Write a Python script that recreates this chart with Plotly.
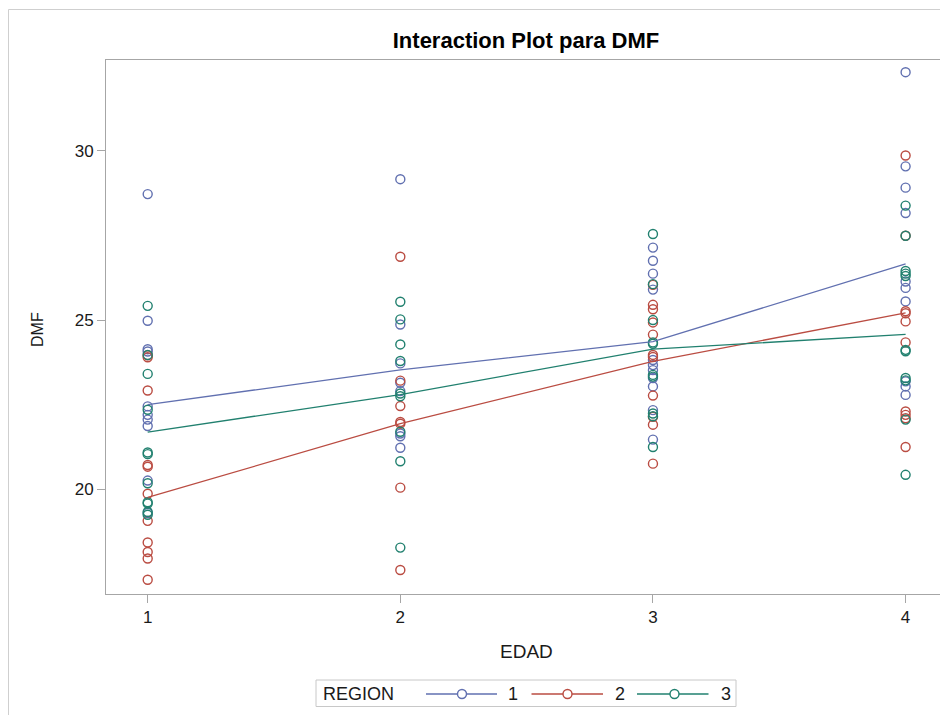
import plotly.graph_objects as go

# ---------------- data ----------------
edad_levels = [1, 2, 3, 4]
region_labels = ["1", "2", "3"]

# REGION 1 (blue)
r1_edad1 = [28.72, 24.98, 24.14, 24.07, 22.45, 22.20, 22.06, 21.87, 20.26, 19.30]
r1_edad2 = [29.16, 24.87, 23.72, 23.15, 22.90, 21.65, 21.57, 21.23]
r1_edad3 = [27.14, 26.75, 26.37, 25.90, 23.82, 23.67, 23.52, 23.29, 23.04, 22.34, 21.47]
r1_edad4 = [32.32, 29.54, 28.91, 28.16, 26.14, 25.95, 25.55, 23.19, 23.04, 22.79]

# REGION 2 (red)
r2_edad1 = [23.96, 23.90, 22.92, 20.72, 20.67, 19.87, 19.07, 18.43, 18.15, 17.96, 17.33]
r2_edad2 = [26.87, 23.21, 22.46, 21.99, 21.94, 20.05, 17.62]
r2_edad3 = [26.04, 25.45, 25.32, 24.93, 24.57, 23.97, 23.91, 22.77, 22.14, 21.91, 20.76]
r2_edad4 = [29.86, 27.49, 25.26, 25.20, 24.96, 24.34, 22.30, 22.20, 22.10, 21.25]

# REGION 3 (green)
r3_edad1 = [25.42, 23.97, 23.41, 22.35, 21.09, 21.04, 20.18, 19.62, 19.58, 19.33, 19.25]
r3_edad2 = [25.54, 25.02, 24.28, 23.79, 22.83, 22.75, 21.70, 20.83, 18.28]
r3_edad3 = [27.54, 26.06, 25.00, 24.34, 24.30, 23.38, 23.33, 22.24, 22.16, 21.25]
r3_edad4 = [28.38, 27.49, 26.45, 26.37, 26.30, 24.12, 24.08, 23.29, 23.22, 22.06, 20.43]

# group means (interaction lines)
mean_r1 = [22.50, 23.53, 24.36, 26.66]
mean_r2 = [19.76, 21.94, 23.78, 25.21]
mean_r3 = [21.69, 22.80, 24.14, 24.58]

y_ticks = [20, 25, 30]

# ---------------- styling ----------------
colors = ["#6170B0", "#BA4C42", "#21806F"]
OFF = 8                       # page body margin of the browser
W, H = 948 - OFF, 715 - OFF
# plot frame in reference-page pixels: x 106..944, y 60..594
ML, MT = 106 - OFF, 60 - OFF
MR = W - (944 - OFF)
MB = H - (594 - OFF)
PW, PH = W - ML - MR, H - MT - MB
FONT = "Liberation Sans, Arial, sans-serif"
TXT = "#1a1a1a"
FRAME = "#A6A6A6"


def px(x):
    """reference-page x pixel -> paper coordinate"""
    return (x - OFF - ML) / PW


def py(y):
    """reference-page y pixel -> paper coordinate"""
    return (MT + PH - (y - OFF)) / PH


groups = [
    [r1_edad1, r1_edad2, r1_edad3, r1_edad4],
    [r2_edad1, r2_edad2, r2_edad3, r2_edad4],
    [r3_edad1, r3_edad2, r3_edad3, r3_edad4],
]
means = [mean_r1, mean_r2, mean_r3]

fig = go.Figure()
for gi, g in enumerate(groups):
    xs, ys = [], []
    for lvl, vals in zip(edad_levels, g):
        xs += [lvl] * len(vals)
        ys += vals
    fig.add_trace(go.Scatter(
        x=xs, y=ys, mode="markers", showlegend=False,
        marker=dict(symbol="circle-open", size=9, color=colors[gi],
                    line=dict(width=1.4, color=colors[gi])),
    ))
for gi, m in enumerate(means):
    fig.add_trace(go.Scatter(
        x=edad_levels, y=m, mode="lines", showlegend=False,
        line=dict(color=colors[gi], width=1.3),
    ))

fig.update_xaxes(
    range=[0.835, 4.152], tickvals=edad_levels, ticktext=[str(v) for v in edad_levels],
    ticks="outside", ticklen=8, tickcolor=FRAME, tickwidth=1,
    showline=True, mirror=True, linecolor=FRAME, linewidth=1,
    showgrid=False, zeroline=False,
    tickfont=dict(family=FONT, size=17, color=TXT),
)
fig.update_yaxes(
    range=[16.91, 32.68], tickvals=y_ticks, ticktext=[str(v) for v in y_ticks],
    ticks="outside", ticklen=8, tickcolor=FRAME, tickwidth=1,
    showline=True, mirror=True, linecolor=FRAME, linewidth=1,
    showgrid=False, zeroline=False,
    tickfont=dict(family=FONT, size=17, color=TXT),
)

shapes = []
annotations = []

# outer border of the image (left edge sits at the page margin)
shapes.append(dict(type="line", xref="paper", yref="paper",
                   x0=px(OFF + 0.5), x1=px(OFF + 0.5), y0=py(715), y1=py(9.5),
                   line=dict(color="#CFCFCF", width=1)))
shapes.append(dict(type="line", xref="paper", yref="paper",
                   x0=px(OFF + 0.5), x1=px(948), y0=py(9.5), y1=py(9.5),
                   line=dict(color="#CFCFCF", width=1)))

# axis titles
annotations.append(dict(text="EDAD", xref="paper", yref="paper",
                        x=px(526), y=py(651), showarrow=False,
                        xanchor="center", yanchor="middle",
                        font=dict(family=FONT, size=19, color=TXT)))
annotations.append(dict(text="DMF", xref="paper", yref="paper",
                        x=px(37), y=py(330), showarrow=False, textangle=-90,
                        xanchor="center", yanchor="middle",
                        font=dict(family=FONT, size=16, color=TXT)))

# legend (drawn manually to mimic SAS layout)
shapes.append(dict(type="rect", xref="paper", yref="paper",
                   x0=px(316), x1=px(736), y0=py(706.5), y1=py(680),
                   line=dict(color="#C8C8C8", width=1), fillcolor="rgba(0,0,0,0)"))
annotations.append(dict(text="REGION", xref="paper", yref="paper",
                        x=px(321), y=py(694), showarrow=False,
                        xanchor="left", yanchor="middle",
                        font=dict(family=FONT, size=18, color=TXT)))
leg_items = [(426, 497, 462, 506), (531.5, 603, 567.5, 612.5), (637, 708.5, 674.5, 718.5)]
for gi, (lx0, lx1, mx, tx) in enumerate(leg_items):
    shapes.append(dict(type="line", xref="paper", yref="paper",
                       x0=px(lx0), x1=px(lx1), y0=py(694), y1=py(694),
                       line=dict(color=colors[gi], width=1.3)))
    shapes.append(dict(type="circle", xref="paper", yref="paper",
                       xsizemode="pixel", ysizemode="pixel",
                       xanchor=px(mx), yanchor=py(694),
                       x0=-4.5, x1=4.5, y0=-4.5, y1=4.5,
                       line=dict(color=colors[gi], width=1.4),
                       fillcolor="white"))
    annotations.append(dict(text=region_labels[gi], xref="paper", yref="paper",
                            x=px(tx), y=py(694), showarrow=False,
                            xanchor="left", yanchor="middle",
                            font=dict(family=FONT, size=18, color=TXT)))

fig.update_layout(
    width=W, height=H, autosize=False,
    margin=dict(l=ML, r=MR, t=MT, b=MB, pad=0),
    paper_bgcolor="white", plot_bgcolor="white",
    title=dict(text="<b>Interaction Plot para DMF</b>", x=px(526), xref="paper",
               xanchor="center", y=1 - (40 - OFF) / H, yref="container", yanchor="middle",
               font=dict(family=FONT, size=22, color="#000000")),
    shapes=shapes, annotations=annotations,
    showlegend=False,
)

fig.write_html("out.html")
